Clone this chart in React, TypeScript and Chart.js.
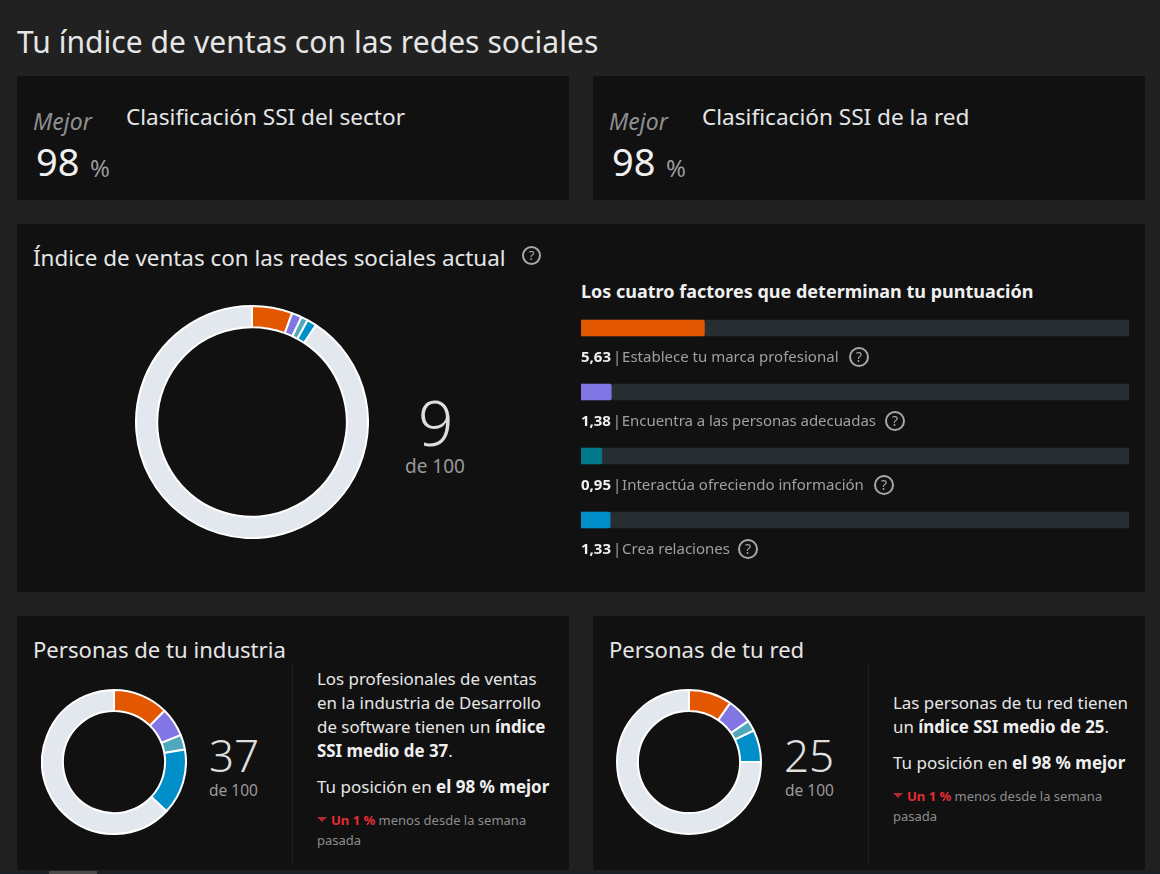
import React, { useEffect, useRef } from "react";
import { Chart, registerables } from "chart.js";

Chart.register(...registerables);

const segmentColors = ["#e35700", "#8176e4", "#4fa9bb", "#008fc8", "#e2e8ee"];
const barColors = ["#e35700", "#8176e4", "#007a8a", "#008fc8"];
const factorNames = ["Establece tu marca profesional", "Encuentra a las personas adecuadas", "Interactúa ofreciendo información", "Crea relaciones"];
const factorLabels = ["5,63", "1,38", "0,95", "1,33"];
const factorValues = [5.63, 1.38, 0.95, 1.33];
const factorTrack = [25, 25, 25, 25];
const mainDonut = [5.63, 1.38, 0.95, 1.33, 90.71];
const industryDonut = [12.4, 6.5, 3.3, 14.8, 63];
const networkDonut = [9.7, 5.7, 2.4, 7.2, 75];

const FONT = '"Noto Sans", sans-serif';

function Donut({ values, left, top, size, cutout }: { values: number[]; left: number; top: number; size: number; cutout: string }) {
  const ref = useRef<HTMLCanvasElement>(null);
  useEffect(() => {
    const chart = new Chart(ref.current!, {
      type: "doughnut",
      data: {
        labels: ["Marca", "Personas", "Información", "Relaciones", "Resto"],
        datasets: [{ data: values, backgroundColor: segmentColors, borderColor: "#ffffff", borderWidth: 2, hoverOffset: 0 }],
      },
      options: {
        animation: false,
        responsive: false,
        cutout,
        layout: { padding: 0 },
        plugins: { legend: { display: false }, tooltip: { enabled: false } },
      },
    });
    return () => chart.destroy();
  }, []);
  return <canvas ref={ref} width={size} height={size} style={{ position: "absolute", left, top, width: size, height: size }} />;
}

function FactorBars() {
  const ref = useRef<HTMLCanvasElement>(null);
  useEffect(() => {
    const chart = new Chart(ref.current!, {
      type: "bar",
      data: {
        labels: factorNames,
        datasets: [
          { data: factorValues, backgroundColor: barColors, barThickness: 16, borderRadius: 2, grouped: false, order: 1 },
          { data: factorTrack, backgroundColor: "#282d31", barThickness: 16, borderRadius: 2, grouped: false, order: 2 },
        ],
      },
      options: {
        indexAxis: "y",
        animation: false,
        responsive: false,
        layout: { padding: 0 },
        scales: {
          x: { display: false, min: 0, max: 25 },
          y: { display: false },
        },
        plugins: { legend: { display: false }, tooltip: { enabled: false } },
      },
    });
    return () => chart.destroy();
  }, []);
  return <canvas ref={ref} width={548} height={256} style={{ position: "absolute", left: 581, top: 296, width: 548, height: 256 }} />;
}

function T({ x, y, size, color = "#e6e6e6", weight = 400, italic, spacing, lh, w, children }: any) {
  return (
    <div
      style={{
        position: "absolute", left: x, top: y, fontSize: size, color, fontWeight: weight,
        fontStyle: italic ? "italic" : "normal", letterSpacing: spacing, lineHeight: (lh ?? Math.round(size * 1.4)) + "px",
        whiteSpace: w ? "normal" : "nowrap", width: w,
      }}
    >
      {children}
    </div>
  );
}

function Card({ x, y, w, h }: { x: number; y: number; w: number; h: number }) {
  return <div style={{ position: "absolute", left: x, top: y, width: w, height: h, background: "#111112", borderRadius: 2 }} />;
}

function Help({ x, y, size = 19 }: { x: number; y: number; size?: number }) {
  return (
    <div
      style={{
        position: "absolute", left: x, top: y, width: size, height: size, boxSizing: "border-box",
        border: "2px solid #a8a8a8", borderRadius: "50%", color: "#a8a8a8", fontSize: size - 6,
        lineHeight: size - 4 + "px", textAlign: "center",
      }}
    >
      ?
    </div>
  );
}

const B = ({ children }: any) => <b style={{ fontWeight: 700, color: "#f0f0f0" }}>{children}</b>;
const Down = ({ x, y }: { x: number; y: number }) => (
  <div style={{ position: "absolute", left: x, top: y, width: 0, height: 0, borderLeft: "5px solid transparent", borderRight: "5px solid transparent", borderTop: "5px solid #b02a30" }} />
);

export default function App() {
  const helpX = [849, 885, 874, 738];
  return (
    <div style={{ position: "fixed", left: 0, top: 0, width: 1160, height: 874, overflow: "hidden", background: "#212121", fontFamily: FONT }}>
      <T x={17} y={21} size={30} spacing={0.05}>Tu índice de ventas con las redes sociales</T>

      <Card x={17} y={76} w={552} h={124} />
      <Card x={593} y={76} w={552} h={124} />
      <Card x={17} y={224} w={1128} h={368} />
      <Card x={17} y={616} w={552} h={254} />
      <Card x={593} y={616} w={552} h={254} />

      {[0, 576].map((dx) => (
        <React.Fragment key={dx}>
          <T x={33 + dx} y={105} size={23} color="#8f8f8f" italic>Mejor</T>
          <T x={36 + dx} y={135} size={38} color="#f0f0f0">98</T>
          <T x={90 + dx} y={151} size={24} color="#9a9a9a">%</T>
        </React.Fragment>
      ))}
      <T x={126} y={101} size={22.6}>Clasificación SSI del sector</T>
      <T x={702} y={101} size={22.6}>Clasificación SSI de la red</T>

      <T x={33} y={242} size={22.4}>Índice de ventas con las redes sociales actual</T>
      <Help x={522} y={246} />

      <Donut values={mainDonut} left={135} top={305} size={234} cutout="81.7%" />
      <T x={418} y={384} size={62} weight={300} color="#dedede" lh={76}>9</T>
      <T x={405} y={453} size={19} color="#9a9a9a">de 100</T>

      <T x={581} y={279} size={18} weight={700} color="#f0f0f0">Los cuatro factores que determinan tu puntuación</T>
      <FactorBars />
      {factorNames.map((name, i) => (
        <React.Fragment key={name}>
          <T x={581} y={345 + i * 64} size={15} color="#a0a0a0" lh={22} spacing={i === 1 ? -0.05 : undefined}>
            <B>{factorLabels[i]}</B> <span style={{ marginLeft: -2, marginRight: -3 }}>|</span> {name}
          </T>
          <Help x={helpX[i]} y={347 + i * 64} size={20} />
        </React.Fragment>
      ))}

      <T x={33} y={634} size={22.1}>Personas de tu industria</T>
      <T x={609} y={634} size={22.1}>Personas de tu red</T>

      <Donut values={industryDonut} left={41} top={689} size={146} cutout="71%" />
      <T x={209} y={726} size={44} weight={300} color="#dedede" lh={58}>37</T>
      <T x={209} y={779} size={15.5} color="#9a9a9a">de 100</T>
      <div style={{ position: "absolute", left: 292, top: 664, width: 1, height: 200, background: "#1f1f1f" }} />
      <T x={317} y={667} size={16.9} lh={24} w={240}>
        Los profesionales de ventas<br />en la industria de Desarrollo<br />de software tienen un <B>índice</B><br /><B>SSI medio de 37</B>.
      </T>
      <T x={317} y={775} size={17} lh={24}>Tu posición en <B>el 98 % mejor</B></T>
      <Down x={317} y={817} />
      <T x={331} y={810} size={13} color="#8c8c8c" lh={20}><b style={{ color: "#e52b2f" }}>Un 1 %</b> menos desde la semana</T>
      <T x={317} y={830} size={13} color="#8c8c8c" lh={20}>pasada</T>

      <Donut values={networkDonut} left={616} top={689} size={146} cutout="71%" />
      <T x={784} y={726} size={44} weight={300} color="#dedede" lh={58}>25</T>
      <T x={785} y={779} size={15.5} color="#9a9a9a">de 100</T>
      <div style={{ position: "absolute", left: 868, top: 664, width: 1, height: 200, background: "#1f1f1f" }} />
      <T x={893} y={691} size={16.9} lh={24}>Las personas de tu red tienen<br />un <B>índice SSI medio de 25</B>.</T>
      <T x={893} y={751} size={17} lh={24}>Tu posición en <B>el 98 % mejor</B></T>
      <Down x={893} y={793} />
      <T x={907} y={786} size={13} color="#8c8c8c" lh={20}><b style={{ color: "#e52b2f" }}>Un 1 %</b> menos desde la semana</T>
      <T x={893} y={806} size={13} color="#8c8c8c" lh={20}>pasada</T>

      <div style={{ position: "absolute", left: 0, top: 871, width: 1160, height: 3, background: "#1a2024" }} />
      <div style={{ position: "absolute", left: 49, top: 871, width: 48, height: 3, background: "#4a4a4a" }} />
    </div>
  );
}
